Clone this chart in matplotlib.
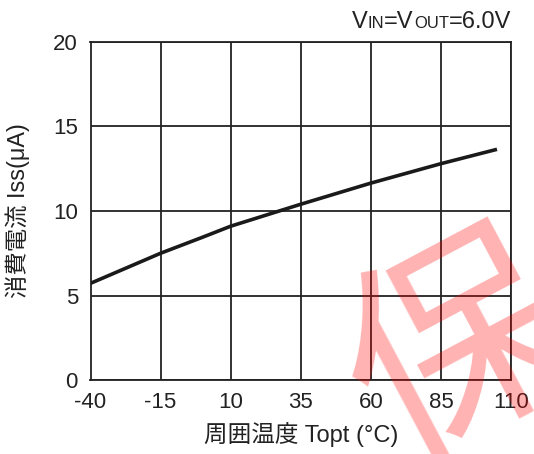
import matplotlib
matplotlib.use("Agg")
import matplotlib.pyplot as plt

temps = [-40, -15, 0, 10, 35, 60, 85, 105]
iss = [5.72, 7.5, 8.45, 9.1, 10.4, 11.65, 12.8, 13.65]
xticks = [-40, -15, 10, 35, 60, 85, 110]
yticks = [0, 5, 10, 15, 20]

FAM = ['Liberation Sans', 'Noto Sans CJK JP', 'DejaVu Sans']
plt.rcParams['font.family'] = FAM
plt.rcParams['axes.unicode_minus'] = False

W, H = 534, 454
fig = plt.figure(figsize=(W/100, H/100), dpi=100)
ax = fig.add_axes([90.5/W, 1-380/H, (511-90.5)/W, (380-42)/H])
ax.set_xlim(-40, 110)
ax.set_ylim(0, 20)
ax.set_xticks(xticks)
ax.set_yticks(yticks)
ax.tick_params(length=0, labelsize=16, pad=9, colors='#222222')
ax.grid(True, color='#222222', linewidth=1.3)
for s in ax.spines.values():
    s.set_color('#222222')
    s.set_linewidth(1.3)
ax.plot(temps, iss, color='#1a1a1a', linewidth=2.6, solid_capstyle='butt', zorder=3)
ax.set_xlabel('周囲温度 Topt (°C)', fontsize=17, labelpad=6, color='#222222')
ax.set_ylabel('消費電流 Iss(μA)', fontsize=16.8, labelpad=17, color='#222222')

# title with small subscripts
fig.canvas.draw()
r = fig.canvas.get_renderer()
parts = [('V', 17), ('IN', 12), ('=V', 17), ('OUT', 12), ('=6.0V', 17)]
x = 352
for txt, fs in parts:
    t = fig.text(x/W, 1-28/H, txt, fontsize=fs, color='#222222', ha='left', va='baseline')
    x = t.get_window_extent(renderer=r).x1

# watermark
fig.text(462/W, 1-356/H, '保', fontsize=160, color='#ff0000', alpha=0.3,
         rotation=28, ha='center', va='center', family=['Noto Sans CJK JP'], zorder=10)

fig.savefig('out.png', dpi=100)
